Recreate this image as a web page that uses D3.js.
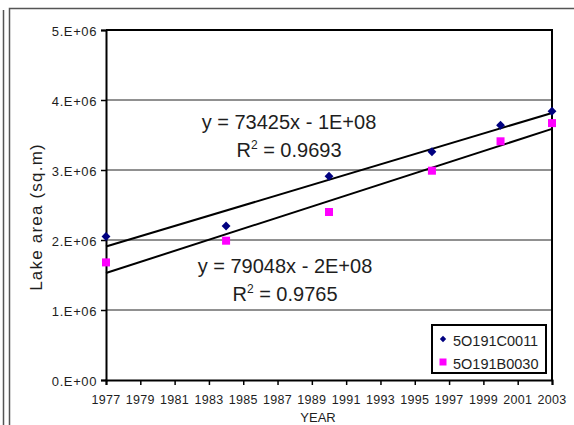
<!DOCTYPE html>
<html>
<head>
<meta charset="utf-8">
<script src="https://cdn.jsdelivr.net/npm/d3@7"></script>
<style>
  html, body { margin: 0; padding: 0; background: #fff; }
  svg { display: block; font-family: "Liberation Sans", Arial, sans-serif; }
  .ylab { font-size: 13px; letter-spacing: 0.6px; }
  .xlab { font-size: 12.5px; letter-spacing: 0.3px; }
</style>
</head>
<body>
<svg id="chart" width="574" height="425"></svg>
<script>
// Survey years and measured lake areas (sq.m) for the two stations
const years = [1977, 1984, 1990, 1996, 2000, 2003];
const areaC0011 = [2050000, 2200000, 2910000, 3260000, 3640000, 3840000];
const areaB0030 = [1680000, 1990000, 2400000, 2990000, 3410000, 3670000];
const seriesNames = ["5O191C0011", "5O191B0030"];
const seriesColors = ["#000080", "#ff00ff"];

// Axis ticks and their labels
const yTickValues = [0, 1000000, 2000000, 3000000, 4000000, 5000000];
const yTickLabels = ["0.E+00", "1.E+06", "2.E+06", "3.E+06", "4.E+06", "5.E+06"];
const xTickValues = [1977, 1979, 1981, 1983, 1985, 1987, 1989, 1991, 1993, 1995, 1997, 1999, 2001, 2003];
const xTickLabels = ["1977", "1979", "1981", "1983", "1985", "1987", "1989", "1991", "1993", "1995", "1997", "1999", "2001", "2003"];

// Trendline equation labels
const equationLabels = ["y = 73425x - 1E+08", "y = 79048x - 2E+08"];
const r2Labels = ["0.9693", "0.9765"];

const svg = d3.select("#chart");
const ink = "#1e1e1e";

// Page frame lines
svg.append("line").attr("x1", 3.5).attr("x2", 3.5).attr("y1", 10).attr("y2", 425)
  .attr("stroke", "#555").attr("stroke-width", 1.5);
svg.append("path").attr("d", "M9.5,425V8.5H574")
  .attr("fill", "none").attr("stroke", "#555").attr("stroke-width", 1.5);

const plot = { left: 106, right: 552, top: 30, bottom: 380 };

const x = d3.scaleLinear().domain([1977, 2003]).range([plot.left, plot.right]);
const y = d3.scaleLinear().domain([0, 5000000]).range([plot.bottom, plot.top]);

// Horizontal gridlines
svg.append("g").selectAll("line").data(yTickValues.slice(1, -1)).join("line")
  .attr("x1", plot.left).attr("x2", plot.right)
  .attr("y1", d => y(d)).attr("y2", d => y(d))
  .attr("stroke", "#222").attr("stroke-width", 1);

// Plot frame (top and right)
svg.append("path")
  .attr("d", `M${plot.left},${plot.top}H${plot.right}V${plot.bottom}`)
  .attr("fill", "none").attr("stroke", "#000").attr("stroke-width", 2);

// Y axis line and ticks
const gy = svg.append("g").attr("transform", `translate(${plot.left},0)`)
  .call(d3.axisLeft(y).tickValues(yTickValues).tickFormat(() => "").tickSize(5));
gy.select(".domain").attr("stroke", "#000").attr("stroke-width", 2);
gy.selectAll(".tick line").attr("stroke", "#000").attr("stroke-width", 1.5);

// Y tick labels
svg.append("g").selectAll("text").data(yTickValues).join("text")
  .attr("class", "ylab")
  .attr("x", plot.left - 9)
  .attr("y", d => y(d) + 6)
  .attr("text-anchor", "end")
  .attr("fill", ink)
  .text((d, i) => yTickLabels[i]);

// X axis line and ticks
const gx = svg.append("g").attr("transform", `translate(0,${plot.bottom})`)
  .call(d3.axisBottom(x).tickValues(xTickValues).tickFormat(() => "").tickSize(5));
gx.select(".domain").attr("stroke", "#000").attr("stroke-width", 2);
gx.selectAll(".tick line").attr("stroke", "#000").attr("stroke-width", 1.5);

// X tick labels
svg.append("g").selectAll("text").data(xTickValues).join("text")
  .attr("class", "xlab")
  .attr("x", d => x(d))
  .attr("y", plot.bottom + 24)
  .attr("text-anchor", "middle")
  .attr("fill", ink)
  .text((d, i) => xTickLabels[i]);

// Axis titles
svg.append("text").attr("x", 318).attr("y", 422).attr("text-anchor", "middle")
  .attr("fill", ink).style("font-size", "13px").text("YEAR");
svg.append("text")
  .attr("transform", "translate(42,217) rotate(-90)")
  .attr("text-anchor", "middle").attr("fill", ink)
  .style("font-size", "17px").style("letter-spacing", "1.2px")
  .text("Lake area (sq.m)");

// Least-squares fit for each series
function linearFit(xs, ys) {
  const mx = d3.mean(xs), my = d3.mean(ys);
  const sxy = d3.sum(xs, (v, i) => (v - mx) * (ys[i] - my));
  const sxx = d3.sum(xs, v => (v - mx) * (v - mx));
  const slope = sxy / sxx;
  return t => my + slope * (t - mx);
}

const series = [areaC0011, areaB0030];
const line = d3.line().x(d => x(d[0])).y(d => y(d[1]));
series.forEach(vals => {
  const f = linearFit(years, vals);
  svg.append("path")
    .attr("d", line([[1977, f(1977)], [2003, f(2003)]]))
    .attr("fill", "none").attr("stroke", "#000").attr("stroke-width", 2);
});

// Markers: diamonds for C0011, squares for B0030
const diamond = d3.symbol().type(d3.symbolDiamond2).size(50);
svg.append("g").selectAll("path").data(years).join("path")
  .attr("d", diamond)
  .attr("transform", (d, i) => `translate(${x(d)},${y(areaC0011[i])})`)
  .attr("fill", seriesColors[0]);
svg.append("g").selectAll("rect").data(years).join("rect")
  .attr("x", d => x(d) - 4).attr("width", 8).attr("height", 8)
  .attr("y", (d, i) => y(areaB0030[i]) - 4)
  .attr("fill", seriesColors[1]);

// Trendline equations
function equation(text, r2, cx, by) {
  svg.append("text").attr("x", cx).attr("y", by).attr("text-anchor", "middle")
    .attr("fill", ink).style("font-size", "20px").text(text);
  const t = svg.append("text").attr("x", cx).attr("y", by + 28).attr("text-anchor", "middle")
    .attr("fill", ink).style("font-size", "20px");
  t.append("tspan").text("R");
  t.append("tspan").style("font-size", "12px").attr("dy", -8).text("2");
  t.append("tspan").attr("dy", 8).text(" = " + r2);
}
equation(equationLabels[0], r2Labels[0], 289, 129);
equation(equationLabels[1], r2Labels[1], 285, 273);

// Legend
const lg = svg.append("g");
lg.append("rect").attr("x", 432).attr("y", 325).attr("width", 114).attr("height", 48)
  .attr("fill", "#fff").attr("stroke", "#000").attr("stroke-width", 2);
lg.append("path").attr("d", d3.symbol().type(d3.symbolDiamond2).size(26))
  .attr("transform", "translate(443,339)").attr("fill", seriesColors[0]);
lg.append("rect").attr("x", 439.5).attr("y", 358.5).attr("width", 7).attr("height", 7)
  .attr("fill", seriesColors[1]);
lg.selectAll("text").data(seriesNames).join("text")
  .attr("x", 453).attr("y", (d, i) => 346 + i * 23)
  .attr("fill", ink).style("font-size", "14.5px").text(d => d);
</script>
</body>
</html>
